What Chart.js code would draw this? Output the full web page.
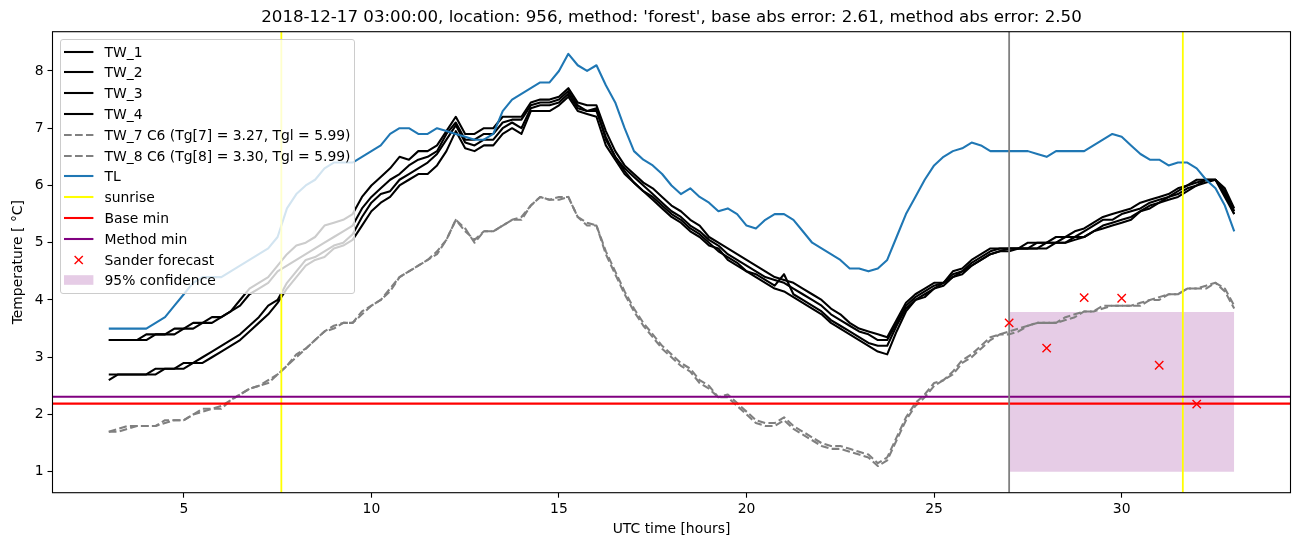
<!DOCTYPE html>
<html>
<head>
<meta charset="utf-8">
<script src="https://cdn.jsdelivr.net/npm/chart.js@4/dist/chart.umd.min.js"></script>
<style>
  html, body { margin: 0; padding: 0; background: #fff; }
  #wrap { position: relative; width: 1302px; height: 547px; font-family: 'DejaVu Sans', sans-serif; }
  #title { position: absolute; left: 52.5px; width: 1238px; top: 7px; line-height: 20px; font-size: 16.67px; text-align: center; color: #000; white-space: nowrap; }
  #legend { position: absolute; left: 59.5px; top: 39px; width: 295px; height: 255px; box-sizing: border-box;
            background: rgba(255,255,255,0.8); border: 1px solid #cccccc; border-radius: 3px; }
  .row { position: absolute; left: 0; height: 20px; display: flex; align-items: center; font-size: 13.9px; color: #000; white-space: nowrap; }
  .row svg { position: absolute; left: 3.5px; top: 0; }
  .row span { position: absolute; left: 44px; line-height: 20px; }
</style>
</head>
<body>
<div id="wrap">
  <canvas id="c" width="1302" height="547"></canvas>
  <div id="title"></div>
  <div id="legend"></div>
</div>
<script>
// ---- data ----
const titleText = "2018-12-17 03:00:00, location: 956, method: 'forest', base abs error: 2.61, method abs error: 2.50";
const hours = [
  3, 3.25, 3.5, 3.75, 4, 4.25, 4.5, 4.75,
  5, 5.25, 5.5, 5.75, 6, 6.25, 6.5, 6.75,
  7, 7.25, 7.5, 7.75, 8, 8.25, 8.5, 8.75,
  9, 9.25, 9.5, 9.75, 10, 10.25, 10.5, 10.75,
  11, 11.25, 11.5, 11.75, 12, 12.25, 12.5, 12.75,
  13, 13.25, 13.5, 13.75, 14, 14.25, 14.5, 14.75,
  15, 15.25, 15.5, 15.75, 16, 16.25, 16.5, 16.75,
  17, 17.25, 17.5, 17.75, 18, 18.25, 18.5, 18.75,
  19, 19.25, 19.5, 19.75, 20, 20.25, 20.5, 20.75,
  21, 21.25, 21.5, 21.75, 22, 22.25, 22.5, 22.75,
  23, 23.25, 23.5, 23.75, 24, 24.25, 24.5, 24.75,
  25, 25.25, 25.5, 25.75, 26, 26.25, 26.5, 26.75,
  27, 27.25, 27.5, 27.75, 28, 28.25, 28.5, 28.75,
  29, 29.25, 29.5, 29.75, 30, 30.25, 30.5, 30.75,
  31, 31.25, 31.5, 31.75, 32, 32.25, 32.5, 32.75,
  33
];
const TW_1 = [
  3.3, 3.3, 3.3, 3.3, 3.4, 3.4, 3.4, 3.5,
  3.5, 3.6, 3.6, 3.7, 3.7, 3.8, 4.0, 4.2,
  4.3, 4.4, 4.6, 4.8, 4.95, 5.0, 5.1, 5.3,
  5.35, 5.4, 5.5, 5.8, 6.0, 6.15, 6.3, 6.5,
  6.45, 6.6, 6.6, 6.7, 6.95, 7.2, 6.9, 6.9,
  7.0, 7.0, 7.2, 7.2, 7.2, 7.45, 7.5, 7.5,
  7.55, 7.7, 7.45, 7.4, 7.4, 6.95, 6.6, 6.35,
  6.2, 6.05, 5.95, 5.8, 5.65, 5.55, 5.4, 5.3,
  5.1, 5.0, 4.9, 4.8, 4.7, 4.6, 4.5, 4.4,
  4.35, 4.3, 4.2, 4.1, 4.0, 3.85, 3.75, 3.6,
  3.5, 3.45, 3.4, 3.35, 3.65, 3.95, 4.1, 4.2,
  4.3, 4.3, 4.5, 4.55, 4.7, 4.8, 4.9, 4.9,
  4.9, 4.9, 5.0, 5.0, 5.0, 5.1, 5.1, 5.2,
  5.25, 5.35, 5.45, 5.5, 5.55, 5.6, 5.7, 5.75,
  5.8, 5.85, 5.95, 6.0, 6.1, 6.1, 6.1, 5.95,
  5.6
];
const TW_2 = [
  3.3, 3.3, 3.3, 3.3, 3.3, 3.4, 3.4, 3.4,
  3.5, 3.5, 3.6, 3.6, 3.7, 3.8, 3.9, 4.1,
  4.2, 4.3, 4.5, 4.6, 4.7, 4.8, 4.9, 5.0,
  5.1, 5.2, 5.3, 5.6, 5.8, 5.95, 6.1, 6.2,
  6.35, 6.45, 6.5, 6.6, 6.9, 7.1, 6.8, 6.8,
  6.9, 6.9, 7.1, 7.15, 7.15, 7.4, 7.45, 7.45,
  7.5, 7.65, 7.4, 7.3, 7.3, 6.85, 6.5, 6.3,
  6.15, 6.0, 5.85, 5.7, 5.55, 5.45, 5.3, 5.2,
  5.05, 4.95, 4.8, 4.7, 4.6, 4.5, 4.4, 4.35,
  4.3, 4.2, 4.1, 4.0, 3.9, 3.75, 3.65, 3.55,
  3.45, 3.4, 3.3, 3.3, 3.6, 3.9, 4.05, 4.15,
  4.25, 4.3, 4.45, 4.5, 4.65, 4.75, 4.85, 4.9,
  4.9, 4.9, 4.9, 5.0, 5.0, 5.0, 5.1, 5.1,
  5.2, 5.3, 5.4, 5.4, 5.5, 5.55, 5.6, 5.7,
  5.75, 5.8, 5.9, 6.0, 6.05, 6.1, 6.1, 5.9,
  5.55
];
const TW_3 = [
  2.7, 2.7, 2.7, 2.7, 2.7, 2.8, 2.8, 2.8,
  2.9, 2.9, 3.0, 3.1, 3.2, 3.3, 3.4, 3.55,
  3.7, 3.9, 4.0, 4.3, 4.5, 4.7, 4.75, 4.85,
  4.95, 5.0, 5.15, 5.45, 5.7, 5.85, 5.9, 6.1,
  6.2, 6.3, 6.4, 6.55, 6.8, 7.05, 6.75, 6.7,
  6.8, 6.8, 7.0, 7.1, 7.0, 7.35, 7.4, 7.4,
  7.45, 7.6, 7.35, 7.3, 7.35, 6.8, 6.5, 6.25,
  6.05, 5.9, 5.8, 5.65, 5.5, 5.4, 5.25, 5.15,
  5.0, 4.85, 4.75, 4.65, 4.5, 4.45, 4.35, 4.25,
  4.45, 4.1, 4.0, 3.9, 3.8, 3.65, 3.55, 3.45,
  3.35, 3.25, 3.2, 3.2, 3.55, 3.85, 4.0, 4.1,
  4.2, 4.25, 4.4, 4.5, 4.6, 4.7, 4.8, 4.85,
  4.9, 4.9, 4.9, 4.9, 5.0, 5.0, 5.0, 5.1,
  5.1, 5.2, 5.3, 5.35, 5.4, 5.45, 5.55, 5.65,
  5.7, 5.8, 5.85, 5.95, 6.0, 6.1, 6.1, 5.85,
  5.5
];
const TW_4 = [
  2.6, 2.7, 2.7, 2.7, 2.7, 2.7, 2.8, 2.8,
  2.8, 2.9, 2.9, 3.0, 3.1, 3.2, 3.3, 3.45,
  3.6, 3.75, 3.95, 4.2, 4.4, 4.6, 4.7, 4.75,
  4.9, 4.95, 5.05, 5.3, 5.55, 5.7, 5.8, 6.0,
  6.1, 6.2, 6.2, 6.35, 6.6, 6.95, 6.65, 6.6,
  6.7, 6.7, 6.9, 7.0, 6.9, 7.3, 7.3, 7.3,
  7.4, 7.55, 7.3, 7.25, 7.2, 6.7, 6.45, 6.2,
  6.05, 5.9, 5.75, 5.6, 5.45, 5.35, 5.2, 5.1,
  4.95, 4.9, 4.7, 4.6, 4.5, 4.4, 4.3, 4.2,
  4.15, 4.05, 3.95, 3.85, 3.75, 3.6, 3.5, 3.4,
  3.3, 3.2, 3.1, 3.05, 3.45, 3.8, 4.0, 4.05,
  4.2, 4.3, 4.4, 4.45, 4.6, 4.7, 4.8, 4.85,
  4.85, 4.9, 4.9, 4.9, 4.9, 5.0, 5.0, 5.05,
  5.1, 5.2, 5.25, 5.3, 5.35, 5.4, 5.55, 5.6,
  5.7, 5.75, 5.8, 5.9, 6.0, 6.05, 6.1, 5.8,
  5.5
];
const TW_7 = [
  1.7, 1.7, 1.75, 1.8, 1.8, 1.8, 1.85, 1.9,
  1.9, 2.0, 2.1, 2.1, 2.1, 2.25, 2.35, 2.45,
  2.5, 2.55, 2.7, 2.85, 3.05, 3.15, 3.3, 3.45,
  3.5, 3.6, 3.6, 3.75, 3.9, 4.0, 4.15, 4.4,
  4.5, 4.6, 4.7, 4.8, 5.05, 5.4, 5.25, 5.0,
  5.2, 5.2, 5.3, 5.4, 5.4, 5.65, 5.8, 5.75,
  5.75, 5.8, 5.45, 5.35, 5.3, 4.85, 4.5, 4.15,
  3.85, 3.6, 3.4, 3.2, 3.05, 2.9, 2.8, 2.6,
  2.5, 2.3, 2.35, 2.2, 2.05, 1.9, 1.85, 1.85,
  1.95, 1.8, 1.7, 1.6, 1.5, 1.45, 1.45, 1.4,
  1.35, 1.3, 1.15, 1.25, 1.6, 1.95, 2.2, 2.35,
  2.55, 2.6, 2.75, 2.95, 3.05, 3.2, 3.35, 3.4,
  3.45, 3.5, 3.55, 3.6, 3.6, 3.6, 3.7, 3.75,
  3.8, 3.8, 3.9, 3.9, 3.9, 3.9, 3.95, 4.0,
  4.05, 4.1, 4.1, 4.2, 4.2, 4.25, 4.3, 4.15,
  3.85
];
const TW_8 = [
  1.7, 1.75, 1.8, 1.8, 1.8, 1.8, 1.9, 1.9,
  1.9, 2.0, 2.05, 2.1, 2.15, 2.25, 2.35, 2.45,
  2.5, 2.6, 2.7, 2.85, 3.0, 3.15, 3.3, 3.45,
  3.55, 3.6, 3.6, 3.8, 3.9, 4.0, 4.2, 4.4,
  4.5, 4.6, 4.7, 4.85, 5.05, 5.4, 5.2, 5.05,
  5.2, 5.2, 5.3, 5.4, 5.45, 5.65, 5.8, 5.75,
  5.8, 5.8, 5.45, 5.3, 5.3, 4.8, 4.45, 4.1,
  3.8, 3.55, 3.35, 3.15, 3.0, 2.85, 2.75, 2.55,
  2.45, 2.3, 2.3, 2.15, 2.0, 1.85, 1.8, 1.8,
  1.9, 1.75, 1.65, 1.55, 1.45, 1.4, 1.4, 1.35,
  1.3, 1.25, 1.1, 1.2, 1.55, 1.9, 2.15, 2.3,
  2.5, 2.6, 2.7, 2.9, 3.0, 3.15, 3.3, 3.4,
  3.4, 3.45, 3.55, 3.6, 3.6, 3.6, 3.65, 3.7,
  3.8, 3.8, 3.85, 3.9, 3.9, 3.9, 3.9, 4.0,
  4.0, 4.1, 4.1, 4.2, 4.2, 4.2, 4.3, 4.2,
  3.9
];
const TL = [
  3.5, 3.5, 3.5, 3.5, 3.5, 3.6, 3.7, 3.9,
  4.1, 4.3, 4.4, 4.4, 4.4, 4.5, 4.6, 4.7,
  4.8, 4.9, 5.1, 5.6, 5.85, 6.0, 6.1, 6.3,
  6.4, 6.4, 6.4, 6.5, 6.6, 6.7, 6.9, 7.0,
  7.0, 6.9, 6.9, 7.0, 6.95, 6.9, 6.85, 6.8,
  6.8, 6.9, 7.3, 7.5, 7.6, 7.7, 7.8, 7.8,
  8.0, 8.3, 8.1, 8.0, 8.1, 7.75, 7.45, 7.0,
  6.6, 6.45, 6.35, 6.2, 6.0, 5.85, 5.95, 5.8,
  5.7, 5.55, 5.6, 5.5, 5.3, 5.25, 5.4, 5.5,
  5.5, 5.4, 5.2, 5.0, 4.9, 4.8, 4.7, 4.55,
  4.55, 4.5, 4.55, 4.7, 5.1, 5.5, 5.8, 6.1,
  6.35, 6.5, 6.6, 6.65, 6.75, 6.7, 6.6, 6.6,
  6.6, 6.6, 6.6, 6.55, 6.5, 6.6, 6.6, 6.6,
  6.6, 6.7, 6.8, 6.9, 6.85, 6.7, 6.55, 6.45,
  6.45, 6.35, 6.4, 6.4, 6.3, 6.1, 5.95, 5.65,
  5.2
];
const sunriseHours = [7.6, 31.63];
const forecastHour = 27.0;
const baseMin = 2.19;
const methodMin = 2.31;
const sanderHours = [27, 28, 29, 30, 31, 32];
const sanderValues = [3.60, 3.16, 4.04, 4.03, 2.86, 2.18];
const confHours = [27, 33];
const confLow = 1.0;
const confHigh = 3.79;
const xTickLabels = [5, 10, 15, 20, 25, 30];
const yTickLabels = [1, 2, 3, 4, 5, 6, 7, 8];
const xLimits = [1.5, 34.5];
const yLimits = [0.634, 8.686];
const legendLabels = ['TW_1', 'TW_2', 'TW_3', 'TW_4',
  'TW_7 C6 (Tg[7] = 3.27, Tgl = 5.99)', 'TW_8 C6 (Tg[8] = 3.30, Tgl = 5.99)',
  'TL', 'sunrise', 'Base min', 'Method min', 'Sander forecast', '95% confidence'];

// ---- build datasets ----
const LW = 2.08;
const DASH = [7.7, 3.3];
const pts = arr => hours.map((h, i) => ({x: h, y: arr[i]}));
const series = [
  {label: legendLabels[0], data: pts(TW_1), color: '#000000', kind: 'line'},
  {label: legendLabels[1], data: pts(TW_2), color: '#000000', kind: 'line'},
  {label: legendLabels[2], data: pts(TW_3), color: '#000000', kind: 'line'},
  {label: legendLabels[3], data: pts(TW_4), color: '#000000', kind: 'line'},
  {label: legendLabels[4], data: pts(TW_7), color: '#808080', kind: 'line', dash: DASH},
  {label: legendLabels[5], data: pts(TW_8), color: '#808080', kind: 'line', dash: DASH},
  {label: legendLabels[6], data: pts(TL), color: '#1f77b4', kind: 'line'},
];
const datasets = [];
const n = 20;
series.forEach((s, i) => {
  datasets.push({
    label: s.label, data: s.data, borderColor: s.color, borderWidth: LW,
    borderDash: s.dash || [], pointRadius: 0, tension: 0, fill: false,
    borderJoinStyle: 'round', borderCapStyle: s.dash ? 'butt' : 'butt', order: n - i
  });
});
// sunrise vertical lines
const sunriseData = [];
sunriseHours.forEach((h, i) => {
  if (i > 0) sunriseData.push({x: h - 0.001, y: null});
  sunriseData.push({x: h, y: yLimits[0]}, {x: h, y: yLimits[1]});
});
datasets.push({label: 'sunrise', data: sunriseData, borderColor: '#ffff00', borderWidth: 1.8,
  pointRadius: 0, spanGaps: false, fill: false, order: n - 7});
datasets.push({label: 'Base min', data: [{x: xLimits[0], y: baseMin}, {x: xLimits[1], y: baseMin}],
  borderColor: '#ff0000', borderWidth: LW, pointRadius: 0, fill: false, order: n - 8});
datasets.push({label: 'Method min', data: [{x: xLimits[0], y: methodMin}, {x: xLimits[1], y: methodMin}],
  borderColor: '#800080', borderWidth: LW, pointRadius: 0, fill: false, order: n - 9});
datasets.push({label: 'forecast time', data: [{x: forecastHour, y: yLimits[0]}, {x: forecastHour, y: yLimits[1]}],
  borderColor: '#808080', borderWidth: 1.8, pointRadius: 0, fill: false, order: n - 10});
datasets.push({label: 'Sander forecast', data: sanderHours.map((h, i) => ({x: h, y: sanderValues[i]})),
  showLine: false, pointStyle: 'crossRot', pointRadius: 5.9, pointBorderWidth: 1.4,
  borderColor: '#ff0000', backgroundColor: '#ff0000', pointBorderColor: '#ff0000', order: n - 11});
datasets.push({label: '95% confidence', data: confHours.map(h => ({x: h, y: confHigh})),
  borderColor: 'rgba(0,0,0,0)', borderWidth: 0, pointRadius: 0,
  backgroundColor: 'rgba(128,0,128,0.2)', fill: {value: confLow}, order: n + 5});

// ---- frame plugin ----
const framePlugin = {
  id: 'frame',
  afterDatasetsDraw(chart) {
    const {ctx, chartArea: a} = chart;
    ctx.save();
    ctx.strokeStyle = '#000';
    ctx.lineWidth = 1.1;
    ctx.strokeRect(a.left, a.top, a.right - a.left, a.bottom - a.top);
    ctx.restore();
  }
};

const tickFont = {family: 'DejaVu Sans', size: 13.9};
const chart = new Chart(document.getElementById('c'), {
  type: 'line',
  data: {datasets},
  options: {
    responsive: false, animation: false, devicePixelRatio: 1,
    layout: {padding: {left: 0, right: 11.5, top: 31.7, bottom: 0}},
    plugins: {legend: {display: false}, tooltip: {enabled: false}, title: {display: false}},
    scales: {
      x: {
        type: 'linear', min: xLimits[0], max: xLimits[1],
        afterBuildTicks: s => { s.ticks = xTickLabels.map(v => ({value: v})); },
        afterFit: s => { s.height = 547 - 492.7; },
        ticks: {autoSkip: false, maxRotation: 0, color: '#000', font: tickFont, padding: 3, callback: v => String(v)},
        grid: {display: true, drawOnChartArea: false, drawTicks: true, tickLength: 5, tickColor: '#000', tickWidth: 1.1},
        border: {display: false},
        title: {display: true, text: 'UTC time [hours]', color: '#000', font: tickFont, padding: {top: 0, bottom: 9.6}}
      },
      y: {
        type: 'linear', min: yLimits[0], max: yLimits[1],
        afterBuildTicks: s => { s.ticks = yTickLabels.map(v => ({value: v})); },
        afterFit: s => { s.width = 52.5; },
        ticks: {autoSkip: false, color: '#000', font: tickFont, padding: 4, callback: v => String(v)},
        grid: {display: true, drawOnChartArea: false, drawTicks: true, tickLength: 5, tickColor: '#000', tickWidth: 1.1},
        border: {display: false},
        title: {display: true, text: 'Temperature [ °C]', color: '#000', font: tickFont, padding: {top: 9.6, bottom: 0}}
      }
    }
  },
  plugins: [framePlugin]
});

// ---- title & legend (HTML text) ----
document.getElementById('title').textContent = titleText;
const legend = document.getElementById('legend');
const handles = [
  {type: 'line', color: '#000'}, {type: 'line', color: '#000'}, {type: 'line', color: '#000'}, {type: 'line', color: '#000'},
  {type: 'line', color: '#808080', dash: DASH}, {type: 'line', color: '#808080', dash: DASH},
  {type: 'line', color: '#1f77b4'}, {type: 'line', color: '#ffff00'}, {type: 'line', color: '#ff0000'},
  {type: 'line', color: '#800080'}, {type: 'marker', color: '#ff0000'}, {type: 'patch', color: 'rgba(128,0,128,0.2)'}
];
legendLabels.forEach((lab, i) => {
  const row = document.createElement('div');
  row.className = 'row';
  row.style.top = (1.5 + i * 20.8) + 'px';
  const h = handles[i];
  let svg = '<svg width="30" height="20" xmlns="http://www.w3.org/2000/svg">';
  if (h.type === 'line') {
    svg += '<line x1="0" y1="10" x2="29.4" y2="10" stroke="' + h.color + '" stroke-width="' + LW + '"' +
      (h.dash ? ' stroke-dasharray="' + h.dash.join(',') + '"' : '') + '/>';
  } else if (h.type === 'marker') {
    svg += '<line x1="10.6" y1="5.9" x2="18.8" y2="14.1" stroke="' + h.color + '" stroke-width="1.4"/>' +
           '<line x1="10.6" y1="14.1" x2="18.8" y2="5.9" stroke="' + h.color + '" stroke-width="1.4"/>';
  } else {
    svg += '<rect x="0" y="5.2" width="29.4" height="9.6" fill="' + h.color + '"/>';
  }
  svg += '</svg>';
  row.innerHTML = svg + '<span></span>';
  row.querySelector('span').textContent = lab;
  legend.appendChild(row);
});
</script>
</body>
</html>
